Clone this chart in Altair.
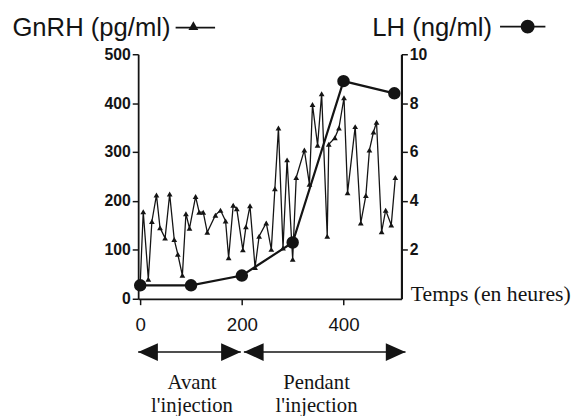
import altair as alt
import pandas as pd

# ---- data ----
gnrh_time = [0, 6, 16, 23, 32, 39, 49, 58, 67, 74, 83, 90, 97, 109, 116, 124, 132,
             148, 158, 168, 174, 183, 190, 202, 208, 216, 226, 234, 248, 258, 265,
             272, 281, 289, 300, 307, 323, 333, 339, 349, 357, 368, 371, 383, 391,
             401, 408, 423, 434, 444, 451, 459, 465, 475, 483, 494, 502]
gnrh_value = [30, 178, 40, 158, 212, 145, 124, 214, 121, 91, 48, 174, 144, 209, 177,
              177, 136, 171, 181, 159, 84, 191, 184, 100, 147, 190, 64, 128, 155,
              101, 225, 349, 104, 284, 81, 248, 304, 234, 397, 314, 419, 128, 316,
              329, 349, 411, 217, 352, 155, 211, 304, 341, 361, 137, 181, 151, 248]

lh_time = [0, 100, 200, 300, 400, 500]
lh_value = [0.55, 0.55, 0.95, 2.3, 8.9, 8.4]

x_ticks = [0, 200, 400]
gnrh_ticks = [0, 100, 200, 300, 400, 500]
lh_ticks = [2, 4, 6, 8, 10]

phase_start = [-4, 204]
phase_end = [198, 522]
phase_mid = [102, 347]
phase_text = ["Avant\nl'injection", "Pendant\nl'injection"]

ink = "#141414"

gdf = pd.DataFrame({"t": gnrh_time, "g": gnrh_value})
ldf = pd.DataFrame({"t": lh_time, "lh": lh_value})
pdf = pd.DataFrame({"s": phase_start, "e": phase_end, "m": phase_mid, "label": phase_text})

xscale = alt.Scale(domain=[-4, 514], nice=False, zero=False)

x_axis = alt.Axis(orient="bottom", values=x_ticks, title="Temps (en heures)", titleX=276,
                  titleY=2, titleAlign="left", titleBaseline="alphabetic",
                  titleFont="Liberation Serif", titleFontSize=22, titleFontWeight="normal",
                  labelFont="Liberation Sans", labelFontSize=19, labelPadding=11, tickSize=6,
                  tickWidth=1.5, domainWidth=1.8, labelFlush=False)

left_axis = alt.Axis(orient="left", values=gnrh_ticks, title="GnRH (pg/ml)", titleAngle=0,
                     titleX=-128, titleY=-19, titleAlign="left", titleBaseline="alphabetic",
                     titleFont="Liberation Sans", titleFontSize=26, titleFontWeight="normal",
                     labelFont="Liberation Sans", labelFontSize=16, labelFontWeight="bold",
                     labelPadding=2, tickSize=6, tickWidth=1.5, domainWidth=1.8)

right_axis = alt.Axis(orient="right", values=lh_ticks, title="LH (ng/ml)", titleAngle=0,
                      titleX=-30, titleY=-19, titleAlign="left", titleBaseline="alphabetic",
                      titleFont="Liberation Sans", titleFontSize=26, titleFontWeight="normal",
                      labelFont="Liberation Sans", labelFontSize=16, labelFontWeight="bold",
                      labelPadding=2, tickSize=6, tickWidth=1.5, domainWidth=2.2)


def xenc(field):
    return alt.X(field, type="quantitative", scale=xscale, axis=x_axis)


g_base = alt.Chart(gdf).encode(
    x=xenc("t"),
    y=alt.Y("g:Q", scale=alt.Scale(domain=[0, 500], nice=False), axis=left_axis),
)
g_line = g_base.mark_line(color=ink, strokeWidth=1.3)
g_pts = g_base.mark_point(shape="triangle-up", filled=True, size=34, color=ink, opacity=1)
gnrh = alt.layer(g_line, g_pts)

l_base = alt.Chart(ldf).encode(
    x=xenc("t"),
    y=alt.Y("lh:Q", scale=alt.Scale(domain=[0, 10], nice=False), axis=right_axis),
)
l_line = l_base.mark_line(color=ink, strokeWidth=2.2)
l_pts = l_base.mark_point(shape="circle", filled=True, size=160, color=ink, opacity=1)
lh = alt.layer(l_line, l_pts)

# phase arrows and labels below the axis
arrow_y = alt.value(302)
arrows = alt.Chart(pdf).mark_rule(color=ink, strokeWidth=1.5).encode(
    x=xenc("s"), x2="e:Q", y=arrow_y)
head_r = alt.Chart(pdf).mark_point(shape="M0,0L-2,-0.9L-2,0.9Z", filled=True, size=400,
                                    color=ink, opacity=1).encode(x=xenc("e"), y=arrow_y)
head_l = alt.Chart(pdf).mark_point(shape="M0,0L2,-0.9L2,0.9Z", filled=True, size=400,
                                    color=ink, opacity=1).encode(x=xenc("s"), y=arrow_y)
phase_lbl = alt.Chart(pdf).mark_text(font="Liberation Serif", fontSize=21, color=ink,
                                     lineBreak="\n", lineHeight=23, align="center",
                                     baseline="alphabetic").encode(
    x=xenc("m"), y=alt.value(340), text="label:N")

# legend glyphs next to the axis titles
legend_df = pd.DataFrame({"k": [0]})
leg_g_line = alt.Chart(legend_df).mark_rule(color=ink, strokeWidth=1.8).encode(
    x=alt.value(38), x2=alt.value(78), y=alt.value(-27))
leg_g_pt = alt.Chart(legend_df).mark_point(shape="triangle-up", filled=True, size=100,
                                           color=ink, opacity=1).encode(
    x=alt.value(56), y=alt.value(-29))
leg_l_line = alt.Chart(legend_df).mark_rule(color=ink, strokeWidth=1.8).encode(
    x=alt.value(367), x2=alt.value(413), y=alt.value(-28))
leg_l_pt = alt.Chart(legend_df).mark_point(shape="circle", filled=True, size=200,
                                           color=ink, opacity=1).encode(
    x=alt.value(395), y=alt.value(-28))

chart = alt.layer(
    gnrh, lh, arrows, head_r, head_l, phase_lbl,
    leg_g_line, leg_g_pt, leg_l_line, leg_l_pt,
).resolve_scale(y="independent").properties(
    width=267, height=248,
    autosize=alt.AutoSizeParams(type="none"),
    padding={"left": 132, "top": 44, "right": 175, "bottom": 116},
    background="white",
).configure_axis(
    grid=False, domainColor=ink, tickColor=ink, labelColor=ink, titleColor=ink,
).configure_view(strokeWidth=0)

chart.save("out.html", embed_options={"renderer": "svg", "actions": False})
